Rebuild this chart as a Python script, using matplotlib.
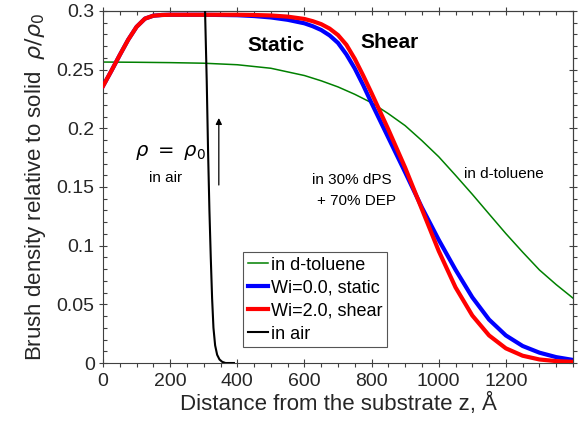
import matplotlib
matplotlib.use("Agg")
import matplotlib.pyplot as plt
from matplotlib.ticker import MultipleLocator, FuncFormatter, FixedLocator

plt.rcParams['font.family'] = ['Liberation Sans', 'DejaVu Sans']
plt.rcParams['mathtext.fontset'] = 'dejavusans'

# Density profiles (z in Angstrom, rho/rho0)
z_tol = [0, 100, 200, 300, 400, 500, 600, 650, 700, 750, 800, 850, 900, 950,
         1000, 1050, 1100, 1150, 1200, 1250, 1300, 1350, 1400]
rho_tol = [0.2565, 0.2563, 0.2560, 0.2555, 0.2542, 0.2512, 0.2450, 0.2405,
           0.2353, 0.2290, 0.2218, 0.2125, 0.2023, 0.1895, 0.1758, 0.1600,
           0.1438, 0.1270, 0.1103, 0.0945, 0.0793, 0.0668, 0.0553]

z_brush = [0, 25, 50, 75, 100, 125, 150, 175, 200, 300, 400, 450, 500, 550,
           600, 625, 650, 675, 700, 725, 750, 775, 800, 850, 900, 950, 1000,
           1050, 1100, 1150, 1200, 1250, 1300, 1350, 1400]
rho_static = [0.236, 0.249, 0.2625, 0.2755, 0.2865, 0.2935, 0.2960, 0.2966,
              0.2968, 0.2968, 0.2964, 0.2957, 0.2945, 0.2925, 0.2895, 0.2870,
              0.2838, 0.2792, 0.2728, 0.2630, 0.2510, 0.2368, 0.2215, 0.1920,
              0.1625, 0.1325, 0.1050, 0.0795, 0.0560, 0.0370, 0.0235, 0.0145,
              0.0088, 0.0050, 0.0026]
rho_shear = [0.236, 0.249, 0.2625, 0.2755, 0.2865, 0.2935, 0.2960, 0.2966,
             0.2968, 0.2968, 0.2968, 0.2966, 0.2962, 0.2952, 0.2932, 0.2913,
             0.2888, 0.2850, 0.2795, 0.2712, 0.2592, 0.2450, 0.2300, 0.1990,
             0.1665, 0.1310, 0.0955, 0.0645, 0.0405, 0.0235, 0.0125, 0.0062,
             0.0030, 0.0016, 0.0010]

z_air = [301, 304, 309, 313, 317, 321, 325, 329, 334, 340, 347, 355, 365, 390]
rho_air = [0.34, 0.30, 0.24, 0.18, 0.13, 0.09, 0.055, 0.030, 0.015, 0.007,
           0.003, 0.001, 0.0, 0.0]

x_ticks = [0, 200, 400, 600, 800, 1000, 1200]
y_ticks = [0, 0.05, 0.1, 0.15, 0.2, 0.25, 0.3]

fig = plt.figure(figsize=(5.84, 4.30), dpi=100)
ax = fig.add_axes([103 / 584, 67 / 430, 470 / 584, 352 / 430])

ax.plot(z_tol, rho_tol, color='#008000', lw=1.1, label='in d-toluene', zorder=2)
ax.plot(z_brush, rho_static, color='#0000ff', lw=3.0, label='Wi=0.0, static',
        zorder=3, solid_joinstyle='round')
ax.plot(z_brush, rho_shear, color='#ff0000', lw=3.0, label='Wi=2.0, shear',
        zorder=4, solid_joinstyle='round')
ax.plot(z_air, rho_air, color='black', lw=1.5, label='in air', zorder=5)

ax.set_xlim(0, 1400)
ax.set_ylim(0, 0.3)

tick_color = '#262626'
spine_color = '#404040'
for s in ax.spines.values():
    s.set_color(spine_color)
    s.set_linewidth(0.8)

ax.xaxis.set_major_locator(FixedLocator(x_ticks))
ax.xaxis.set_minor_locator(MultipleLocator(50))
ax.yaxis.set_major_locator(FixedLocator(y_ticks))
ax.yaxis.set_minor_locator(MultipleLocator(0.01))
ax.yaxis.set_major_formatter(FuncFormatter(lambda v, p: f"{v:g}"))
ax.xaxis.set_major_formatter(FuncFormatter(lambda v, p: f"{v:g}"))

ax.tick_params(axis='both', which='major', direction='inout', length=6,
               width=0.8, color=spine_color, labelsize=14, labelcolor=tick_color)
ax.tick_params(axis='x', which='minor', direction='out', length=3,
               width=0.8, color=spine_color)
ax.tick_params(axis='y', which='minor', direction='in', length=3,
               width=0.8, color=spine_color)
ax.tick_params(axis='x', which='major', pad=4)
ax.tick_params(axis='y', which='major', pad=3)

# top and right tick marks without labels
secx = ax.secondary_xaxis('top')
secx.xaxis.set_major_locator(FixedLocator(x_ticks))
secx.xaxis.set_minor_locator(MultipleLocator(50))
secx.tick_params(which='major', direction='inout', length=6, width=0.8,
                 color=spine_color, labeltop=False)
secx.tick_params(which='minor', direction='in', length=3, width=0.8,
                 color=spine_color)
secx.spines['top'].set_color(spine_color)

secy = ax.secondary_yaxis('right')
secy.yaxis.set_major_locator(FixedLocator(y_ticks))
secy.yaxis.set_minor_locator(MultipleLocator(0.01))
secy.tick_params(which='major', direction='inout', length=6, width=0.8,
                 color=spine_color, labelright=False)
secy.tick_params(which='minor', direction='out', length=3, width=0.8,
                 color=spine_color)
secy.spines['right'].set_color(spine_color)

ax.set_xlabel('Distance from the substrate z, Å', fontsize=16, color=tick_color,
              labelpad=2)
ax.set_ylabel(r'Brush density relative to solid  $\rho/\rho_0$', fontsize=16,
              color=tick_color, labelpad=6)

# annotations
ax.text(515, 0.271, 'Static', fontsize=15, fontweight='bold', ha='center',
        va='center')
ax.text(855, 0.273, 'Shear', fontsize=15, fontweight='bold', ha='center',
        va='center')
ax.text(200, 0.179, r'$\rho\ =\ \rho_0$', fontsize=14, ha='center', va='center')
ax.text(185, 0.158, 'in air', fontsize=11, ha='center', va='center')
ax.text(740, 0.156, 'in 30% dPS', fontsize=11, ha='center', va='center')
ax.text(755, 0.138, '+ 70% DEP', fontsize=11, ha='center', va='center')
ax.text(1193, 0.161, 'in d-toluene', fontsize=11, ha='center', va='center')
ax.annotate('', xy=(345, 0.2088), xytext=(345, 0.1517),
            arrowprops=dict(arrowstyle='-|>', color='black', lw=0.9,
                            mutation_scale=9, shrinkA=0, shrinkB=0))

leg = ax.legend(loc='upper left', bbox_to_anchor=(0.298, 0.315),
                borderaxespad=0, fontsize=13, handlelength=1.15,
                handletextpad=0.15, labelspacing=0.33, borderpad=0.25,
                fancybox=False, framealpha=1, edgecolor='#555555')
leg.get_frame().set_linewidth(0.8)

fig.savefig('out.png', dpi=100)
